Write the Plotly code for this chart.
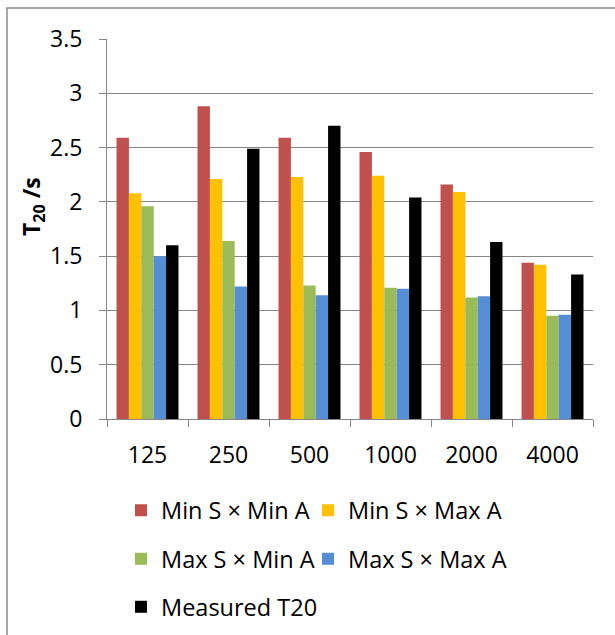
import plotly.graph_objects as go

categories = ["125", "250", "500", "1000", "2000", "4000"]
min_s_min_a = [2.59, 2.88, 2.59, 2.46, 2.16, 1.44]
min_s_max_a = [2.08, 2.21, 2.23, 2.24, 2.09, 1.42]
max_s_min_a = [1.96, 1.64, 1.23, 1.21, 1.12, 0.95]
max_s_max_a = [1.50, 1.22, 1.14, 1.20, 1.13, 0.96]
measured_t20 = [1.60, 2.49, 2.70, 2.04, 1.63, 1.33]

series_names = ["Min S × Min A", "Min S × Max A", "Max S × Min A", "Max S × Max A", "Measured T20"]
series_values = [min_s_min_a, min_s_max_a, max_s_min_a, max_s_max_a, measured_t20]
series_colors = ["#C0504D", "#FFC000", "#9BBB59", "#558ED5", "#000000"]

FONT = "Open Sans"
FS = 23
fig = go.Figure()
legend_ids = ["legend", "legend2", "legend3", "legend4", "legend5"]
for name, vals, color, lg in zip(series_names, series_values, series_colors, legend_ids):
    fig.add_trace(go.Bar(x=categories, y=vals, name=name, marker_color=color,
                         marker_line_width=0, legend=lg, showlegend=True))

W, H = 615, 635
L, R, T, B = 107, 22, 39, 216
pw = W - L - R
ph = H - T - B

def px(x):
    return (x - L) / pw

def py(y):
    return (H - B - y) / ph

legend_common = dict(orientation="h", xanchor="left", yanchor="middle",
                     font=dict(family=FONT, size=23.5, color="#000000"),
                     bgcolor="rgba(0,0,0,0)", itemclick=False, visible=True)

col_x = [121, 308, 121, 308, 121]
row_y = [510.5, 510.5, 559, 559, 607]
legends = {lg: dict(x=px(cx), y=py(ry), **legend_common)
           for lg, cx, ry in zip(legend_ids, col_x, row_y)}

fig.update_layout(
    width=W, height=H,
    showlegend=True,
    margin=dict(l=L, r=R, t=T, b=B, autoexpand=False),
    paper_bgcolor="white", plot_bgcolor="white",
    barmode="group", bargap=0.235, bargroupgap=0,
    font=dict(family=FONT, size=FS, color="#000000"),
    xaxis=dict(
        type="category", tickson="boundaries", ticks="outside", ticklen=7,
        tickcolor="#868686", showline=True, linecolor="#868686", linewidth=1,
        showgrid=False, tickfont=dict(family=FONT, size=FS, color="#000000"),
        ticklabelstandoff=15,
    ),
    yaxis=dict(
        range=[0, 3.5], dtick=0.5, ticks="outside", ticklen=7,
        tickcolor="#868686", showline=True, linecolor="#868686", linewidth=1,
        showgrid=True, gridcolor="#868686", gridwidth=1, zeroline=False,
        tickfont=dict(family=FONT, size=FS, color="#000000"),
        ticklabelstandoff=12,
    ),
    annotations=[dict(text="<b>T<sub>20</sub> /s</b>", xref="paper", yref="paper",
                      x=px(32), y=py(207), xanchor="center", yanchor="middle",
                      textangle=-90, showarrow=False,
                      font=dict(family=FONT, size=FS, color="#000000"))],
    shapes=[dict(type="rect", xref="paper", yref="paper",
                 x0=px(7), x1=px(625), y0=py(645), y1=py(8),
                 line=dict(color="#8C8C8C", width=1.5), fillcolor="rgba(0,0,0,0)",
                 layer="below")],
    **legends,
)

fig.write_html("out.html", config={"displayModeBar": False},
               post_script="document.body.style.margin='0';")
